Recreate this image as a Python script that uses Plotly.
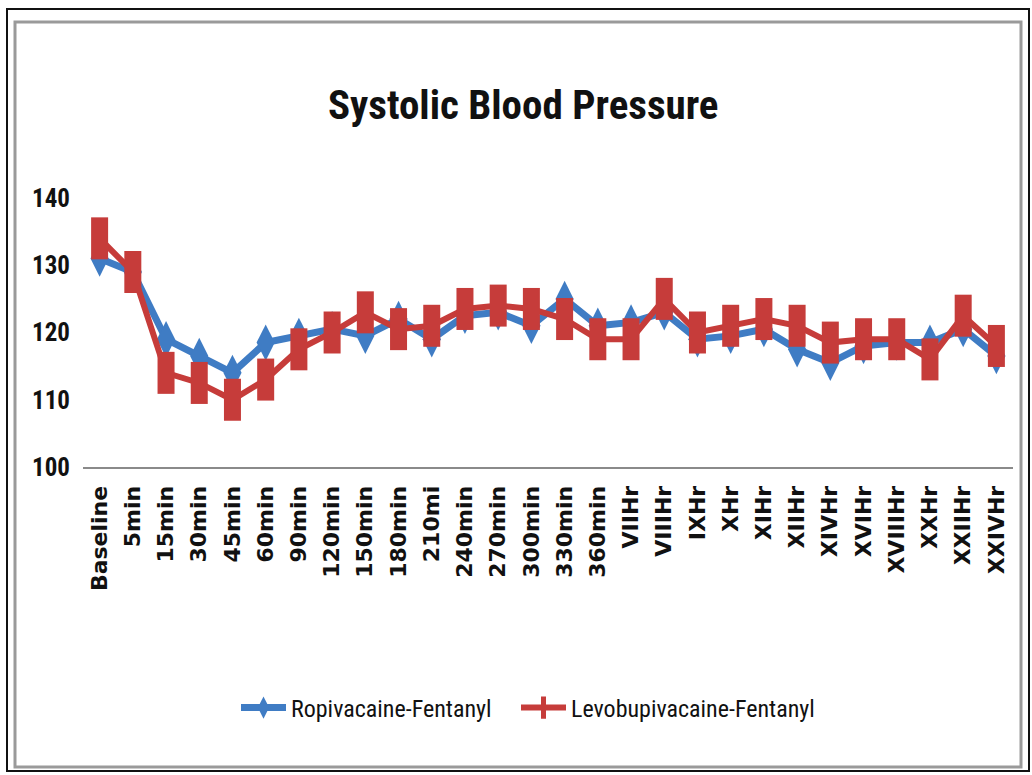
import plotly.graph_objects as go

categories = ["Baseline", "5min", "15min", "30min", "45min", "60min", "90min", "120min",
              "150min", "180min", "210mi", "240min", "270min", "300min", "330min", "360min",
              "VIIHr", "VIIIHr", "IXHr", "XHr", "XIHr", "XIIHr", "XIVHr", "XVIHr",
              "XVIIIHr", "XXHr", "XXIIHr", "XXIVHr"]
ropivacaine = [131, 129, 119, 116.5, 114, 118.5, 119.5, 120.5, 119.5, 122, 119, 122.5,
               123, 121, 125, 121, 121.5, 123, 119, 119.5, 120.5, 117.5, 115.5, 118,
               118.5, 118.5, 120.5, 116.5]
levobupivacaine = [134, 129, 114, 112.5, 110, 113, 117.5, 120, 123, 120.5, 121, 123.5,
                   124, 123.5, 122, 119, 119, 125, 120, 121, 122, 121, 118.5, 119,
                   119, 116, 122.5, 118]
y_ticks = [100, 110, 120, 130, 140]

BLUE = "#3f7cc4"
RED = "#c63c3a"
NARROW = "Roboto Condensed, Liberation Sans Narrow, Arial Narrow, Roboto, sans-serif"

W, H = 1032, 775
L, R, T, B = 83, 19, 198, 308
pw, ph = W - L - R, H - T - B


def px_x(p):
    return (p - L) / pw


def px_y(p):
    return (H - B - p) / ph


fig = go.Figure()
fig.add_trace(go.Scatter(
    x=categories, y=ropivacaine, name="Ropivacaine-Fentanyl", mode="lines+markers",
    line=dict(color=BLUE, width=7),
    marker=dict(symbol="diamond-tall", size=26, color=BLUE),
    legend="legend",
))
fig.add_trace(go.Scatter(
    x=categories, y=levobupivacaine, name="Levobupivacaine-Fentanyl", mode="lines+markers",
    line=dict(color=RED, width=6),
    marker=dict(symbol="line-ns", size=30, color=RED, line=dict(color=RED, width=17)),
    legend="legend2",
))

leg_common = dict(orientation="h", xanchor="left", y=px_y(708), yanchor="middle",
                  font=dict(family=NARROW, size=24, color="#111"),
                  itemwidth=45, bgcolor="rgba(0,0,0,0)")

fig.update_layout(
    width=W, height=H, autosize=False,
    margin=dict(l=L, r=R, t=T, b=B, pad=0),
    paper_bgcolor="white", plot_bgcolor="white",
    title=dict(text="<b>Systolic Blood Pressure</b>", x=0.507, xanchor="center",
               y=1 - 105 / H, yanchor="middle", yref="container",
               font=dict(family=NARROW, size=41, color="#111")),
    xaxis=dict(type="category", range=[-0.5, len(categories) - 0.5],
               showline=True, linecolor="#8a8a8a", linewidth=2, showgrid=False,
               ticks="", tickangle=-90, zeroline=False,
               tickfont=dict(family="DejaVu Sans", size=22, color="#111", weight="bold"),
               ticklabelstandoff=8),
    yaxis=dict(range=[100, 140], tickvals=y_ticks, showgrid=False, zeroline=False,
               showline=False, ticks="",
               tickfont=dict(family=NARROW, size=25, color="#111", weight="bold"),
               ticklabelstandoff=12),
    showlegend=True,
    legend=dict(x=px_x(236), **leg_common),
    legend2=dict(x=px_x(516), **leg_common),
    shapes=[
        dict(type="rect", xref="paper", yref="paper",
             x0=px_x(7), x1=px_x(1029), y0=px_y(771), y1=px_y(9),
             line=dict(color="#111", width=2)),
        dict(type="rect", xref="paper", yref="paper",
             x0=px_x(15), x1=px_x(1021), y0=px_y(767), y1=px_y(22),
             line=dict(color="#9a9a9a", width=3)),
    ],
)

fig.write_html("out.html", config={"displayModeBar": False},
               post_script="document.body.style.margin='0';")
